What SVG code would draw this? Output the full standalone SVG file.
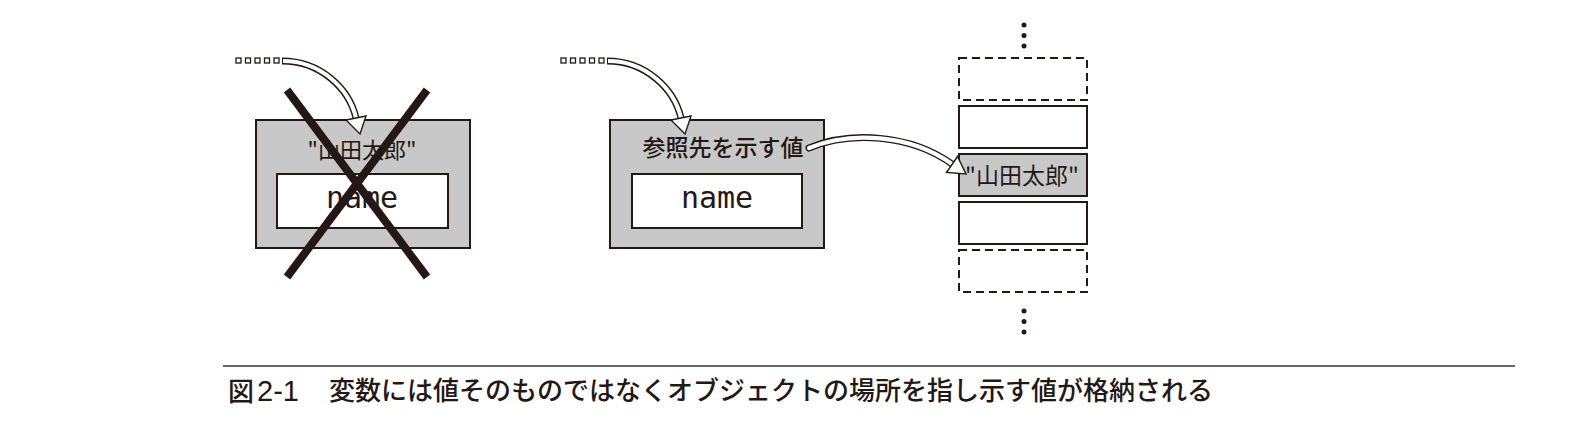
<svg xmlns="http://www.w3.org/2000/svg" width="1586" height="430" viewBox="0 0 1586 430">
<style>
.box{fill:#c8c8c8;stroke:#231815;stroke-width:2}
.wbox{fill:#fff;stroke:#231815;stroke-width:2}
.dbox{fill:#fff;stroke:#231815;stroke-width:2;stroke-dasharray:8 5}
.jp{font-family:"Noto Sans CJK JP","Noto Sans",sans-serif;fill:#231815}
.mono{font-family:"DejaVu Sans Mono",monospace;fill:#231815}
.sq{fill:#fff;stroke:#231815;stroke-width:1.3}
.outer{fill:none;stroke:#231815;stroke-width:7}
.inner{fill:none;stroke:#fff;stroke-width:4.2}
.head{fill:#fff;stroke:#231815;stroke-width:1.4;stroke-linejoin:miter}
.dot{fill:#231815}
</style>
<rect width="1586" height="430" fill="#fff"/>

<g id="left-variable">
  <rect class="box" x="256" y="120" width="214" height="128"/>
  <text class="jp" x="362" y="158" font-size="22" text-anchor="middle">"山田太郎"</text>
  <rect class="wbox" x="277" y="174" width="171" height="54"/>
  <text class="mono" x="362" y="208" font-size="30" text-anchor="middle">name</text>
</g>

<g id="cross">
  <line x1="287" y1="90" x2="427" y2="277" stroke="#231815" stroke-width="8"/>
  <line x1="427" y1="90" x2="287" y2="277" stroke="#231815" stroke-width="8"/>
</g>

<g id="mid-variable">
  <rect class="box" x="610" y="120" width="214" height="128"/>
  <text class="jp" x="723" y="156" font-size="23" font-weight="500" text-anchor="middle">参照先を示す値</text>
  <rect class="wbox" x="632" y="174" width="170" height="54"/>
  <text class="mono" x="717" y="208" font-size="30" text-anchor="middle">name</text>
</g>

<g id="memory">
  <circle class="dot" cx="1024" cy="25" r="2.5"/>
  <circle class="dot" cx="1024" cy="35.5" r="2.5"/>
  <circle class="dot" cx="1024" cy="46" r="2.5"/>
  <rect class="dbox" x="959" y="58" width="128" height="42"/>
  <rect class="wbox" x="959" y="106" width="128" height="42"/>
  <rect class="box" x="959" y="154" width="128" height="42"/>
  <text class="jp" x="1022" y="184" font-size="23" text-anchor="middle">"山田太郎"</text>
  <rect class="wbox" x="959" y="202" width="128" height="42"/>
  <rect class="dbox" x="959" y="250" width="128" height="42"/>
  <circle class="dot" cx="1024" cy="311" r="2.5"/>
  <circle class="dot" cx="1024" cy="321.5" r="2.5"/>
  <circle class="dot" cx="1024" cy="332" r="2.5"/>
</g>

<g id="connectors">
  <g id="arrow-left">
    <rect class="sq" x="236" y="58" width="5" height="5"/>
    <rect class="sq" x="245.5" y="58" width="5" height="5"/>
    <rect class="sq" x="255" y="58" width="5" height="5"/>
    <rect class="sq" x="264.5" y="58" width="5" height="5"/>
    <rect class="sq" x="274" y="58" width="5" height="5"/>
    <path class="outer" d="M 282 61 C 320 61, 349 88, 356 118"/>
    <path class="inner" d="M 283 61 C 320 61, 349 88, 356 118"/>
    <polygon class="head" points="346,120 366,116 360,134"/>
  </g>
  <g id="arrow-mid">
    <rect class="sq" x="561" y="58" width="5" height="5"/>
    <rect class="sq" x="570.5" y="58" width="5" height="5"/>
    <rect class="sq" x="580" y="58" width="5" height="5"/>
    <rect class="sq" x="589.5" y="58" width="5" height="5"/>
    <rect class="sq" x="599" y="58" width="5" height="5"/>
    <path class="outer" d="M 607 61 C 645 61, 674 88, 681 118"/>
    <path class="inner" d="M 608 61 C 645 61, 674 88, 681 118"/>
    <polygon class="head" points="671,120 691,116 685,134"/>
  </g>
  <g id="arrow-ref">
    <path class="outer" d="M 809 148 C 850 131, 910 134, 952 164" stroke-linecap="round"/>
    <path class="inner" d="M 809 148 C 850 131, 910 134, 952 164" stroke-linecap="round"/>
    <polygon class="head" points="946.5,172.5 957.5,156.5 966,174"/>
  </g>
</g>

<g id="caption">
  <line x1="223" y1="366" x2="1515" y2="366" stroke="#666" stroke-width="2"/>
  <text class="jp" x="228" y="401" font-size="26" font-weight="500">図<tspan font-family="'Liberation Sans',Arial,sans-serif" font-size="29" dx="3">2-1</tspan></text>
  <text class="jp" x="329" y="400" font-size="26" font-weight="500">変数には値そのものではなくオブジェクトの場所を指し示す値が格納される</text>
</g>
</svg>
